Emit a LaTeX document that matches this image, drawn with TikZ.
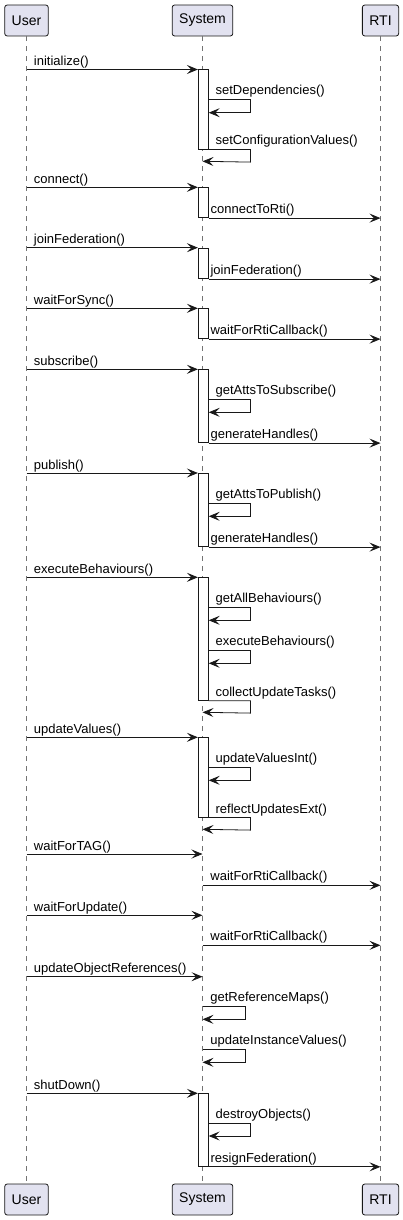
\documentclass[tikz,border=0pt]{standalone}
\usepackage{fontspec}
\setmainfont{Liberation Sans}
\usetikzlibrary{arrows.meta}
\definecolor{boxfill}{HTML}{E2E2F0}
\definecolor{umlline}{HTML}{181818}

\begin{document}
\begin{tikzpicture}[x=1pt,y=-1pt,
		actor/.style={draw=umlline,fill=boxfill,rounded corners=2.5pt,line width=0.8pt,minimum height=31pt,inner xsep=7pt,font=\fontsize{14}{16}\selectfont},
		life/.style={draw=black!55,line width=0.5pt,dash pattern=on 5pt off 5pt},
		act/.style={draw=umlline,fill=white,line width=0.8pt,minimum width=10pt,inner sep=0pt,anchor=north},
		msg/.style={draw=umlline,line width=0.8pt,-{Stealth[length=11pt,width=9pt,inset=4.5pt]}},
		lbl/.style={font=\fontsize{13}{15}\selectfont,inner sep=0pt,anchor=base west}]
	\useasboundingbox (0,0) rectangle (403,1220);

	% participants, top and bottom
	\node[actor]	(user)		at (26.5,20.5)	{User};
	\node[actor]	(system)	at (202.5,20.5)	{System};
	\node[actor]	(rti)		at (380.5,20.5)	{RTI};
	\node[actor]	(userB)		at (26.5,1199.5)	{User};
	\node[actor]	(systemB)	at (202.5,1199.5)	{System};
	\node[actor]	(rtiB)		at (380.5,1199.5)	{RTI};

	\draw[life] (user) -- (userB);
	\draw[life] (system) -- (systemB);
	\draw[life] (rti) -- (rtiB);

	% activation bars
	\node[act,minimum height=79.2pt]	(a1) at (203.3,69.5)	{};
	\node[act,minimum height=30pt]		(a2) at (203.3,187.3)	{};
	\node[act,minimum height=30.6pt]	(a3) at (203.3,247.7)	{};
	\node[act,minimum height=30pt]		(a4) at (203.3,308.3)	{};
	\node[act,minimum height=73pt]		(a5) at (203.3,369.3)	{};
	\node[act,minimum height=73.3pt]	(a6) at (203.3,473)		{};
	\node[act,minimum height=122.7pt]	(a7) at (203.3,577.3)	{};
	\node[act,minimum height=79.4pt]	(a8) at (203.3,737.3)	{};
	\node[act,minimum height=72.7pt]	(a9) at (203.3,1093.3)	{};

	% initialize
	\draw[msg] (user |- a1.north) -- (a1.north west) node[lbl,pos=0,xshift=7pt,yshift=4pt] (m1) {initialize()};
	\draw[msg] (a1.east |- 0,99.3) -- ++(41.7,0) node[lbl,pos=0,xshift=6.5pt,yshift=4.5pt] (m2) {setDependencies()} -- ++(0,13.4) -- ++(-41.7,0);
	\draw[msg] (a1.south east) -- ++(41.7,0) node[lbl,pos=0,xshift=6.5pt,yshift=4.5pt] (m3) {setConfigurationValues()} -- ++(0,12.6) -- (system |- 0,161.3);

	% connect
	\draw[msg] (user |- a2.north) -- (a2.north west) node[lbl,pos=0,xshift=7pt,yshift=4pt] (m4) {connect()};
	\draw[msg] (a2.south east) -- (rti |- a2.south) node[lbl,pos=0,xshift=1.5pt,yshift=4.5pt] (m5) {connectToRti()};

	% joinFederation
	\draw[msg] (user |- a3.north) -- (a3.north west) node[lbl,pos=0,xshift=7pt,yshift=4pt] (m6) {joinFederation()};
	\draw[msg] (a3.south east) -- (rti |- a3.south) node[lbl,pos=0,xshift=1.5pt,yshift=4.5pt] (m7) {joinFederation()};

	% waitForSync
	\draw[msg] (user |- a4.north) -- (a4.north west) node[lbl,pos=0,xshift=7pt,yshift=4pt] (m8) {waitForSync()};
	\draw[msg] (a4.south east) -- (rti |- a4.south) node[lbl,pos=0,xshift=1.5pt,yshift=4.5pt] (m9) {waitForRtiCallback()};

	% subscribe
	\draw[msg] (user |- a5.north) -- (a5.north west) node[lbl,pos=0,xshift=7pt,yshift=4pt] (m10) {subscribe()};
	\draw[msg] (a5.east |- 0,399.3) -- ++(41.7,0) node[lbl,pos=0,xshift=6.5pt,yshift=4.5pt] (m11) {getAttsToSubscribe()} -- ++(0,13) -- ++(-41.7,0);
	\draw[msg] (a5.south east) -- (rti |- a5.south) node[lbl,pos=0,xshift=1.5pt,yshift=4.5pt] (m12) {generateHandles()};

	% publish
	\draw[msg] (user |- a6.north) -- (a6.north west) node[lbl,pos=0,xshift=7pt,yshift=4pt] (m13) {publish()};
	\draw[msg] (a6.east |- 0,503.3) -- ++(41.7,0) node[lbl,pos=0,xshift=6.5pt,yshift=4.5pt] (m14) {getAttsToPublish()} -- ++(0,13) -- ++(-41.7,0);
	\draw[msg] (a6.south east) -- (rti |- a6.south) node[lbl,pos=0,xshift=1.5pt,yshift=4.5pt] (m15) {generateHandles()};

	% executeBehaviours
	\draw[msg] (user |- a7.north) -- (a7.north west) node[lbl,pos=0,xshift=7pt,yshift=4pt] (m16) {executeBehaviours()};
	\draw[msg] (a7.east |- 0,607.3) -- ++(41.7,0) node[lbl,pos=0,xshift=6.5pt,yshift=4.5pt] (m17) {getAllBehaviours()} -- ++(0,13) -- ++(-41.7,0);
	\draw[msg] (a7.east |- 0,650.3) -- ++(41.7,0) node[lbl,pos=0,xshift=6.5pt,yshift=4.5pt] (m18) {executeBehaviours()} -- ++(0,13) -- ++(-41.7,0);
	\draw[msg] (a7.south east) -- ++(41.7,0) node[lbl,pos=0,xshift=6.5pt,yshift=4.5pt] (m19) {collectUpdateTasks()} -- ++(0,12.3) -- (system |- 0,712.3);

	% updateValues
	\draw[msg] (user |- a8.north) -- (a8.north west) node[lbl,pos=0,xshift=7pt,yshift=4pt] (m20) {updateValues()};
	\draw[msg] (a8.east |- 0,767.3) -- ++(41.7,0) node[lbl,pos=0,xshift=6.5pt,yshift=4.5pt] (m21) {updateValuesInt()} -- ++(0,13) -- ++(-41.7,0);
	\draw[msg] (a8.south east) -- ++(41.7,0) node[lbl,pos=0,xshift=6.5pt,yshift=4.5pt] (m22) {reflectUpdatesExt()} -- ++(0,12.6) -- (system |- 0,829.3);

	% waiting
	\draw[msg] (user |- 0,854) -- (system |- 0,854) node[lbl,pos=0,xshift=7pt,yshift=4pt] (m23) {waitForTAG()};
	\draw[msg] (system |- 0,885.3) -- (rti |- 0,885.3) node[lbl,pos=0,xshift=7.5pt,yshift=4.5pt] (m24) {waitForRtiCallback()};
	\draw[msg] (user |- 0,915.3) -- (system |- 0,915.3) node[lbl,pos=0,xshift=7pt,yshift=4pt] (m25) {waitForUpdate()};
	\draw[msg] (system |- 0,945.3) -- (rti |- 0,945.3) node[lbl,pos=0,xshift=7.5pt,yshift=4.5pt] (m26) {waitForRtiCallback()};

	% updateObjectReferences
	\draw[msg] (user |- 0,976.7) -- (system |- 0,976.7) node[lbl,pos=0,xshift=7pt,yshift=4pt] (m27) {updateObjectReferences()};
	\draw[msg] (system |- 0,1006) -- ++(42.5,0) node[lbl,pos=0,xshift=7.5pt,yshift=4.5pt] (m28) {getReferenceMaps()} -- ++(0,13.3) -- ++(-42.5,0);
	\draw[msg] (system |- 0,1049) -- ++(42.5,0) node[lbl,pos=0,xshift=7.5pt,yshift=4.5pt] (m29) {updateInstanceValues()} -- ++(0,13.3) -- ++(-42.5,0);

	% shutDown
	\draw[msg] (user |- a9.north) -- (a9.north west) node[lbl,pos=0,xshift=7pt,yshift=4pt] (m30) {shutDown()};
	\draw[msg] (a9.east |- 0,1123.3) -- ++(41.7,0) node[lbl,pos=0,xshift=6.5pt,yshift=4.5pt] (m31) {destroyObjects()} -- ++(0,12.7) -- ++(-41.7,0);
	\draw[msg] (a9.south east) -- (rti |- a9.south) node[lbl,pos=0,xshift=1.5pt,yshift=4.5pt] (m32) {resignFederation()};
\end{tikzpicture}
\end{document}
